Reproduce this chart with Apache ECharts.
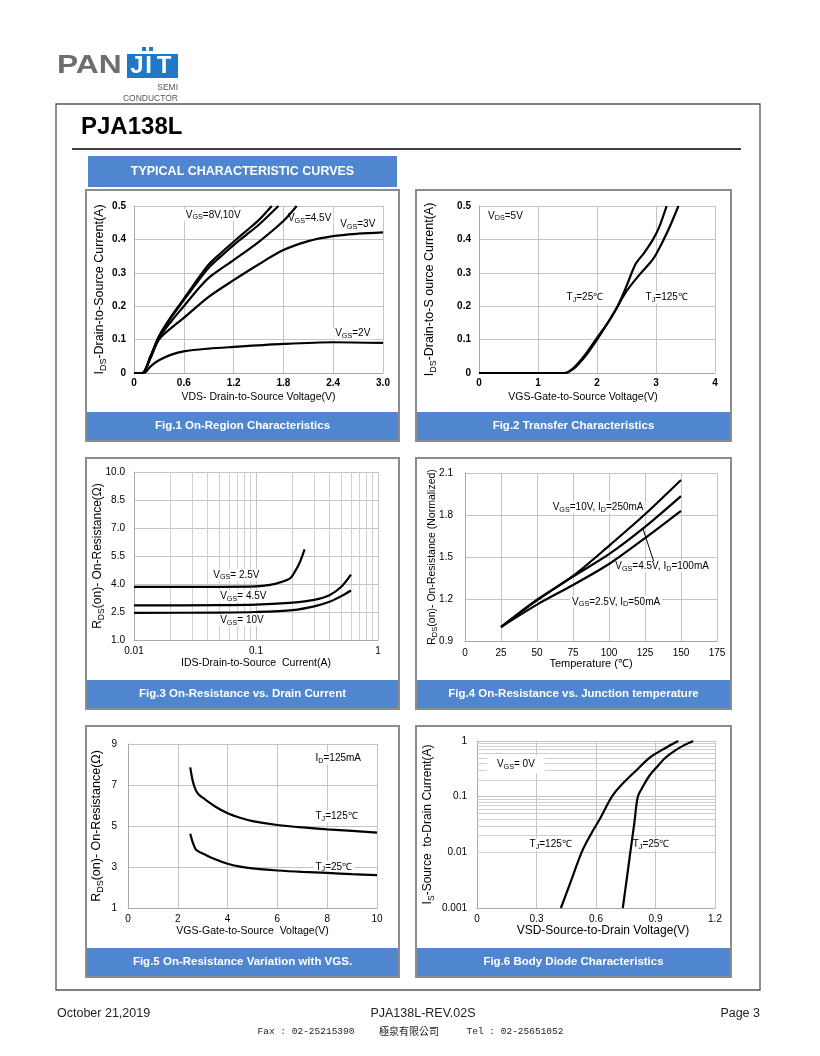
<!DOCTYPE html>
<html><head><meta charset="utf-8">
<script src="https://cdn.jsdelivr.net/npm/echarts@6/dist/echarts.min.js"></script>
<style>html,body{margin:0;padding:0;background:#fff}#c{width:820px;height:1056px}</style>
</head><body><div id="c"></div><script>
const FONT = '"Liberation Sans", Arial, Helvetica, sans-serif';

// ---------- Fig.1 On-Region Characteristics ----------
const fig1XTicks = [0, 0.6, 1.2, 1.8, 2.4, 3.0];
const fig1YTicks = [0, 0.1, 0.2, 0.3, 0.4, 0.5];
const fig1Vgs10 = [[0,0],[0.1,0],[0.2,0.05],[0.3,0.11],[0.45,0.17],[0.6,0.222],[0.75,0.275],[0.9,0.325],[1.05,0.36],[1.2,0.393],[1.35,0.425],[1.5,0.457],[1.66,0.5]];
const fig1Vgs8  = [[0,0],[0.1,0],[0.2,0.05],[0.3,0.108],[0.45,0.167],[0.6,0.218],[0.75,0.268],[0.9,0.315],[1.05,0.35],[1.2,0.383],[1.35,0.413],[1.5,0.443],[1.74,0.5]];
const fig1Vgs45 = [[0,0],[0.1,0],[0.2,0.05],[0.3,0.105],[0.45,0.155],[0.6,0.2],[0.75,0.245],[0.9,0.285],[1.2,0.338],[1.5,0.392],[1.8,0.455],[1.96,0.5]];
const fig1Vgs3  = [[0,0],[0.1,0],[0.2,0.045],[0.3,0.1],[0.45,0.135],[0.6,0.165],[0.9,0.228],[1.2,0.278],[1.5,0.325],[1.8,0.368],[2.1,0.395],[2.4,0.41],[2.7,0.417],[3.0,0.421]];
const fig1Vgs2  = [[0,0],[0.12,0],[0.2,0.02],[0.3,0.038],[0.45,0.055],[0.6,0.065],[0.9,0.073],[1.2,0.078],[1.8,0.087],[2.4,0.092],[3.0,0.09]];

// ---------- Fig.2 Transfer Characteristics ----------
const fig2XTicks = [0, 1, 2, 3, 4];
const fig2YTicks = [0, 0.1, 0.2, 0.3, 0.4, 0.5];
const fig2Tj25  = [[0,0],[1,0],[1.45,0],[1.6,0.012],[1.8,0.05],[2.0,0.1],[2.2,0.155],[2.35,0.2],[2.5,0.26],[2.65,0.325],[2.8,0.36],[2.95,0.4],[3.05,0.435],[3.18,0.5]];
const fig2Tj125 = [[0,0],[1,0],[1.45,0],[1.6,0.015],[1.8,0.055],[2.0,0.105],[2.2,0.155],[2.35,0.2],[2.5,0.245],[2.7,0.29],[2.9,0.33],[3.0,0.355],[3.2,0.425],[3.38,0.5]];

// ---------- Fig.3 On-Resistance vs. Drain Current ----------
const fig3XTicks = [0.01, 0.1, 1];
const fig3XMinor = [0.02,0.03,0.04,0.05,0.06,0.07,0.08,0.09,0.2,0.3,0.4,0.5,0.6,0.7,0.8,0.9];
const fig3YTicks = [1.0, 2.5, 4.0, 5.5, 7.0, 8.5, 10.0];
const fig3Vgs25 = [[0.01,3.85],[0.05,3.85],[0.1,3.87],[0.13,3.95],[0.16,4.1],[0.19,4.3],[0.21,4.7],[0.23,5.2],[0.25,5.85]];
const fig3Vgs45 = [[0.01,2.85],[0.05,2.87],[0.1,2.9],[0.2,3.0],[0.3,3.15],[0.4,3.4],[0.5,3.85],[0.6,4.5]];
const fig3Vgs10 = [[0.01,2.45],[0.05,2.47],[0.1,2.5],[0.2,2.6],[0.3,2.8],[0.4,3.05],[0.5,3.35],[0.6,3.65]];

// ---------- Fig.4 On-Resistance vs. Junction temperature ----------
const fig4XTicks = [0, 25, 50, 75, 100, 125, 150, 175];
const fig4YTicks = [0.9, 1.2, 1.5, 1.8, 2.1];
const fig4Vgs10  = [[25,1.0],[50,1.195],[75,1.365],[100,1.58],[125,1.805],[150,2.05]];
const fig4Vgs45  = [[25,1.0],[50,1.19],[75,1.36],[100,1.52],[125,1.715],[150,1.935]];
const fig4Vgs25  = [[25,1.0],[50,1.16],[75,1.3],[100,1.45],[125,1.635],[150,1.83]];

// ---------- Fig.5 On-Resistance Variation with VGS ----------
const fig5XTicks = [0, 2, 4, 6, 8, 10];
const fig5YTicks = [1, 3, 5, 7, 9];
const fig5Tj125 = [[2.5,7.86],[2.6,7.2],[2.72,6.75],[2.85,6.52],[3.0,6.38],[3.5,5.95],[4.0,5.62],[4.5,5.4],[5.0,5.24],[6.0,5.05],[7.0,4.93],[8.0,4.84],[9.0,4.76],[10.0,4.68]];
const fig5Tj25  = [[2.5,4.62],[2.6,4.2],[2.72,3.86],[2.85,3.75],[3.0,3.66],[3.5,3.38],[4.0,3.16],[4.5,3.02],[5.0,2.93],[6.0,2.83],[7.0,2.76],[8.0,2.71],[9.0,2.65],[10.0,2.6]];

// ---------- Fig.6 Body Diode Characteristics ----------
const fig6XTicks = [0, 0.3, 0.6, 0.9, 1.2];
const fig6YTicks = [0.001, 0.01, 0.1, 1];
const fig6YMinor = [0.002,0.003,0.004,0.005,0.006,0.007,0.008,0.009,0.02,0.03,0.04,0.05,0.06,0.07,0.08,0.09,0.2,0.3,0.4,0.5,0.6,0.7,0.8,0.9];
const fig6Tj125 = [[0.423,0.001],[0.47,0.0028],[0.53,0.0105],[0.58,0.023],[0.62,0.04],[0.68,0.1],[0.73,0.165],[0.8,0.29],[0.87,0.5],[0.95,0.75],[1.015,1.0]];
const fig6Tj25  = [[0.735,0.001],[0.755,0.0033],[0.773,0.01],[0.793,0.033],[0.811,0.1],[0.84,0.16],[0.87,0.24],[0.9,0.32],[0.95,0.5],[1.0,0.68],[1.05,0.86],[1.09,1.0]];

// ---------- text ----------
const captions = ['Fig.1 On-Region Characteristics','Fig.2 Transfer Characteristics','Fig.3 On-Resistance vs. Drain Current','Fig.4 On-Resistance vs. Junction temperature','Fig.5 On-Resistance Variation with VGS.','Fig.6 Body Diode Characteristics'];

// ================= build =================
function rich(size, lh) {
  const ss = Math.round(size * 0.72 * 10) / 10;
  return {
    n: { fontSize: size, lineHeight: size + (lh == null ? 4 : lh), fontFamily: FONT, color: '#000' },
    s: { fontSize: ss, lineHeight: ss, verticalAlign: 'bottom', fontFamily: FONT, color: '#000' }
  };
}
const num = v => String(+(+v).toPrecision(6));
const fix1 = v => v === 0 ? '0' : (+v).toFixed(1);

const grids = [
  { left: 134, top: 206, width: 249, height: 167 },
  { left: 479, top: 206, width: 236, height: 167 },
  { left: 134, top: 472, width: 244, height: 168 },
  { left: 465, top: 473, width: 252, height: 168 },
  { left: 128, top: 744, width: 249, height: 164 },
  { left: 477, top: 741, width: 238, height: 167 }
].map(g => Object.assign({ containLabel: false, outerBoundsMode: 'none', show: false }, g));

function axis(gi, o) {
  return {
    type: o.log ? 'log' : 'value', logBase: 10, gridIndex: gi,
    min: o.min, max: o.max,
    name: o.name, nameLocation: 'middle', nameGap: o.gap, nameMoveOverlap: false,
    nameTextStyle: { fontFamily: FONT, fontSize: o.nameSize, color: '#000', rich: rich(o.nameSize), padding: o.namePad || 0 },
    axisLine: { show: true, onZero: false, lineStyle: { color: '#a8a8a8', width: 1 } },
    axisTick: { show: false, customValues: o.ticks },
    axisLabel: { customValues: o.ticks, formatter: o.fmt, fontFamily: FONT, fontSize: o.labelSize || 10,
      fontWeight: o.bold ? 'bold' : 'normal', color: '#000', margin: o.margin },
    splitLine: { show: true, lineStyle: { color: '#c4c4c4', width: 1 } },
    minorTick: { show: false }, minorSplitLine: { show: false }
  };
}

const xAxes = [
  axis(0, { min: 0, max: 3, ticks: fig1XTicks, fmt: fix1, bold: true, margin: 5, name: 'VDS- Drain-to-Source Voltage(V)', gap: 19, nameSize: 10.5 }),
  axis(1, { min: 0, max: 4, ticks: fig2XTicks, fmt: num, bold: true, margin: 5, name: 'VGS-Gate-to-Source Voltage(V)', gap: 19, nameSize: 10.5, namePad: [0, 28, 0, 0] }),
  axis(2, { log: true, min: 0.01, max: 1, ticks: fig3XTicks, fmt: num, margin: 6, name: 'IDS-Drain-to-Source  Current(A)', gap: 18, nameSize: 10.5 }),
  axis(3, { min: 0, max: 175, ticks: fig4XTicks, fmt: num, margin: 7, name: 'Temperature (℃)', gap: 17, nameSize: 11 }),
  axis(4, { min: 0, max: 10, ticks: fig5XTicks, fmt: num, margin: 6, name: 'VGS-Gate-to-Source  Voltage(V)', gap: 18, nameSize: 10.5 }),
  axis(5, { min: 0, max: 1.2, ticks: fig6XTicks, fmt: fix1, margin: 6, name: 'VSD-Source-to-Drain Voltage(V)', gap: 17, nameSize: 12, namePad: [0, 0, 0, 14] })
];
const yAxes = [
  axis(0, { min: 0, max: 0.5, ticks: fig1YTicks, fmt: num, bold: true, margin: 8, name: '{n|I}{s|DS}{n|-Drain-to-Source Current(A)}', gap: 26, nameSize: 12.5 }),
  axis(1, { min: 0, max: 0.5, ticks: fig2YTicks, fmt: num, bold: true, margin: 8, name: '{n|I}{s|DS}{n|-Drain-to-S ource Current(A)}', gap: 41, nameSize: 12.5 }),
  axis(2, { min: 1, max: 10, ticks: fig3YTicks, fmt: v => (+v).toFixed(1), margin: 9, name: '{n|R}{s|DS}{n|(on)- On-Resistance(Ω)}', gap: 28, nameSize: 12 }),
  axis(3, { min: 0.9, max: 2.1, ticks: fig4YTicks, fmt: v => (+v).toFixed(1), margin: 12, name: '{n|R}{s|DS}{n|(on)- On-Resistance (Normalized)}', gap: 26, nameSize: 10.5 }),
  axis(4, { min: 1, max: 9, ticks: fig5YTicks, fmt: num, margin: 11, name: '{n|R}{s|DS}{n|(on)- On-Resistance(Ω)}', gap: 23, nameSize: 12.5 }),
  axis(5, { log: true, min: 0.001, max: 1, ticks: fig6YTicks, fmt: num, margin: 10, name: '{n|I}{s|S}{n|-Source  to-Drain Current(A)}', gap: 41, nameSize: 12 })
];

function curve(gi, data) {
  return { type: 'line', xAxisIndex: gi, yAxisIndex: gi, data, showSymbol: false, symbol: 'none',
    smooth: 0.3, clip: true, silent: true, z: 3,
    lineStyle: { color: '#000', width: 2.2 } };
}
function notes(gi, items, size, extra) {
  const s = {
    type: 'line', xAxisIndex: gi, yAxisIndex: gi, data: [], silent: true, z: 2,
    markPoint: {
      z: 2,
      symbol: 'circle', symbolSize: 0, silent: true, animation: false,
      label: { show: true, position: 'right', distance: 0, color: '#000', fontFamily: FONT, fontSize: size,
        backgroundColor: '#fff', padding: [0, 2, 0, 2], rich: rich(size, 2) },
      data: items.map(it => ({ coord: [it[0], it[1]], value: 0,
        label: Object.assign({ formatter: it[2] }, it[3] || {}) }))
    }
  };
  if (extra) s.markLine = extra;
  return s;
}
function minorLines(gi, key, vals) {
  return { type: 'line', xAxisIndex: gi, yAxisIndex: gi, data: [], silent: true, z: 1,
    markLine: { z: 1, silent: true, animation: false, symbol: ['none', 'none'], label: { show: false },
      lineStyle: { color: '#cfcfcf', width: 1, type: 'solid' },
      data: vals.map(v => ({ [key]: v })) } };
}

const series = [
  curve(0, fig1Vgs10), curve(0, fig1Vgs8), curve(0, fig1Vgs45), curve(0, fig1Vgs3), curve(0, fig1Vgs2),
  notes(0, [[0.6, 0.473, '{n|V}{s|GS}{n|=8V,10V}'], [1.83, 0.463, '{n|V}{s|GS}{n|=4.5V}'], [2.46, 0.445, '{n|V}{s|GS}{n|=3V}'], [2.4, 0.118, '{n|V}{s|GS}{n|=2V}']], 10),
  curve(1, fig2Tj25), curve(1, fig2Tj125),
  notes(1, [[0.12, 0.47, '{n|V}{s|DS}{n|=5V}'], [1.45, 0.226, '{n|T}{s|J}{n|=25℃}'], [2.79, 0.226, '{n|T}{s|J}{n|=125℃}']], 10),
  minorLines(2, 'xAxis', fig3XMinor),
  curve(2, fig3Vgs25), curve(2, fig3Vgs45), curve(2, fig3Vgs10),
  notes(2, [[0.043, 4.49, '{n|V}{s|GS}{n|= 2.5V}'], [0.049, 3.33, '{n|V}{s|GS}{n|= 4.5V}'], [0.049, 2.07, '{n|V}{s|GS}{n|= 10V}']], 10),
  curve(3, fig4Vgs10), curve(3, fig4Vgs45), curve(3, fig4Vgs25),
  notes(3, [[59.5, 1.855, '{n|V}{s|GS}{n|=10V, I}{s|D}{n|=250mA}'], [103, 1.435, '{n|V}{s|GS}{n|=4.5V, I}{s|D}{n|=100mA}'], [73, 1.18, '{n|V}{s|GS}{n|=2.5V, I}{s|D}{n|=50mA}']], 10,
    { z: 4, silent: true, animation: false, symbol: ['none', 'arrow'], symbolSize: [0, 7], label: { show: false },
      lineStyle: { color: '#000', width: 1, type: 'solid' },
      data: [[{ coord: [131, 1.47] }, { coord: [123.5, 1.705] }]] }),
  curve(4, fig5Tj125), curve(4, fig5Tj25),
  notes(4, [[7.45, 8.3, '{n|I}{s|D}{n|=125mA}'], [7.45, 5.46, '{n|T}{s|J}{n|=125℃}'], [7.45, 3.0, '{n|T}{s|J}{n|=25℃}']], 10),
  minorLines(5, 'yAxis', fig6YMinor),
  curve(5, fig6Tj125), curve(5, fig6Tj25),
  notes(5, [[0.05, 0.38, '{n|V}{s|GS}{n|= 0V}', { padding: [3, 10, 3, 10] }], [0.255, 0.0138, '{n|T}{s|J}{n|=125℃}'], [0.775, 0.0138, '{n|T}{s|J}{n|=25℃}']], 10)
];

// ---------- page graphics ----------
const BLUE = '#4f86cf';
const G = [];
function txt(x, y, text, o) {
  o = o || {};
  G.push({ type: 'text', x, y, z: 20, silent: true, scaleX: o.sx || 1, style: {
    text, fill: o.fill || '#000', fontFamily: o.family || FONT, fontSize: o.size || 12, fontWeight: o.weight || 'normal',
    align: o.align || 'left', textAlign: o.align || 'left', verticalAlign: 'middle', textVerticalAlign: 'middle' } });
}
function rect(x, y, w, h, style, z) { G.push({ type: 'rect', z: z || 10, silent: true, shape: { x, y, width: w, height: h }, style }); }
function line(x1, y1, x2, y2, stroke, lw) { G.push({ type: 'line', z: 10, silent: true, shape: { x1, y1, x2, y2 }, style: { stroke, lineWidth: lw } }); }

// logo
txt(57, 66, 'PAN', { size: 25, weight: 'bold', fill: '#6e6e6e', sx: 1.27 });
rect(127, 54, 51, 24, { fill: '#1f78c8' });
rect(142, 47, 4, 4, { fill: '#1f78c8' });
rect(149, 47, 4, 4, { fill: '#1f78c8' });
txt(137, 66.5, 'J', { size: 24, weight: 'bold', fill: '#fff', align: 'center' });
txt(148.5, 66.5, 'I', { size: 24, weight: 'bold', fill: '#fff', align: 'center' });
txt(164, 66.5, 'T', { size: 24, weight: 'bold', fill: '#fff', align: 'center' });
txt(178, 88, 'SEMI', { size: 8.5, fill: '#555', align: 'right' });
txt(178, 99, 'CONDUCTOR', { size: 8.5, fill: '#555', align: 'right' });

// frame & title
rect(56, 104, 704, 886, { fill: 'none', stroke: '#555', lineWidth: 1.3 });
txt(81, 127, 'PJA138L', { size: 24, weight: 'bold' });
line(72, 149, 741, 149, '#000', 1.3);
rect(88, 156, 309, 31, { fill: BLUE });
txt(242.5, 171.5, 'TYPICAL CHARACTERISTIC CURVES', { size: 12.5, weight: 'bold', fill: '#fff', align: 'center' });

// panels
const colX = [86, 416], colW = [313, 315], rowY = [190, 458, 726], panelH = 251;
captions.forEach((c, i) => {
  const col = i % 2, row = Math.floor(i / 2);
  const x = colX[col], y = rowY[row], w = colW[col];
  rect(x + 1, y + panelH - 29, w - 2, 28, { fill: BLUE });
  rect(x, y, w, panelH, { fill: 'none', stroke: '#8c8c8c', lineWidth: 2 }, 11);
  txt(x + w / 2, y + panelH - 15, c, { size: 11.5, weight: 'bold', fill: '#fff', align: 'center' });
});

// footer
txt(57, 1014, 'October 21,2019', { size: 12.5, fill: '#222' });
txt(423, 1014, 'PJA138L-REV.02S', { size: 12.5, fill: '#222', align: 'center' });
txt(760, 1014, 'Page 3', { size: 12.5, fill: '#222', align: 'right' });
txt(306, 1031, 'Fax : 02-25215390', { size: 9.5, fill: '#222', align: 'center', family: '"Liberation Mono", "DejaVu Sans Mono", monospace' });
txt(409, 1031, '極泉有限公司', { size: 10, fill: '#222', align: 'center', family: '"Noto Sans CJK TC", sans-serif' });
txt(515, 1031, 'Tel : 02-25651052', { size: 9.5, fill: '#222', align: 'center', family: '"Liberation Mono", "DejaVu Sans Mono", monospace' });

const chart = echarts.init(document.getElementById('c'), null, { renderer: 'canvas', width: 820, height: 1056 });
chart.setOption({
  animation: false,
  backgroundColor: '#fff',
  textStyle: { fontFamily: FONT },
  grid: grids,
  xAxis: xAxes,
  yAxis: yAxes,
  series,
  graphic: G
});
</script></body></html>
